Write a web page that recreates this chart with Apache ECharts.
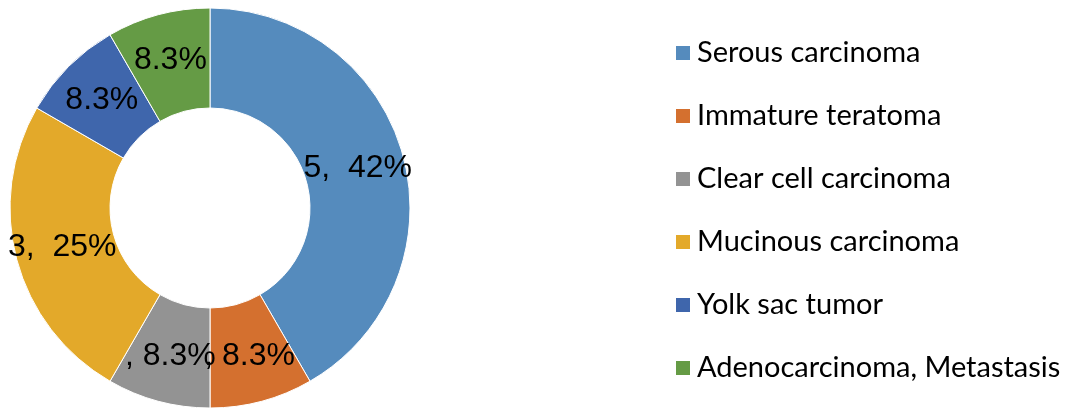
<!DOCTYPE html>
<html>
<head>
<meta charset="utf-8">
<script src="https://cdn.jsdelivr.net/npm/echarts@6/dist/echarts.min.js"></script>
<style>html,body{margin:0;padding:0;background:#fff}#c{width:1072px;height:409px}</style>
</head>
<body>
<div id="c"></div>
<script>
const categories = ["Serous carcinoma", "Immature teratoma", "Clear cell carcinoma", "Mucinous carcinoma", "Yolk sac tumor", "Adenocarcinoma, Metastasis"];
const counts = [5, 1, 1, 3, 1, 1];
const sliceLabels = ["5,  42%", ", 8.3%", ", 8.3%", "3,  25%", "8.3%", "8.3%"];
const colors = ["#558BBD", "#D4702F", "#939393", "#E3A92A", "#3F66AC", "#659B45"];

const chart = echarts.init(document.getElementById('c'), null, {renderer: 'canvas'});
chart.setOption({
  animation: false,
  color: colors,
  legend: {
    orient: 'vertical',
    left: 669,
    top: 33,
    itemWidth: 16,
    itemHeight: 16,
    itemGap: 33,
    icon: 'rect',
    textStyle: {fontFamily: 'Lato', fontSize: 29, color: '#000', lineHeight: 30, padding: [0, 0, 0, 1]},
    data: categories
  },
  series: [{
    type: 'pie',
    center: [210, 208],
    radius: [100, 200],
    startAngle: 90,
    clockwise: true,
    avoidLabelOverlap: false,
    labelLayout: {hideOverlap: false},
    itemStyle: {borderColor: '#fff', borderWidth: 1},
    label: {
      show: true,
      position: 'inside',
      fontFamily: 'Liberation Sans',
      fontSize: 32,
      color: '#000',
      formatter: p => sliceLabels[p.dataIndex]
    },
    labelLine: {show: false},
    data: categories.map((n, i) => ({name: n, value: counts[i]}))
  }]
});
</script>
</body>
</html>
